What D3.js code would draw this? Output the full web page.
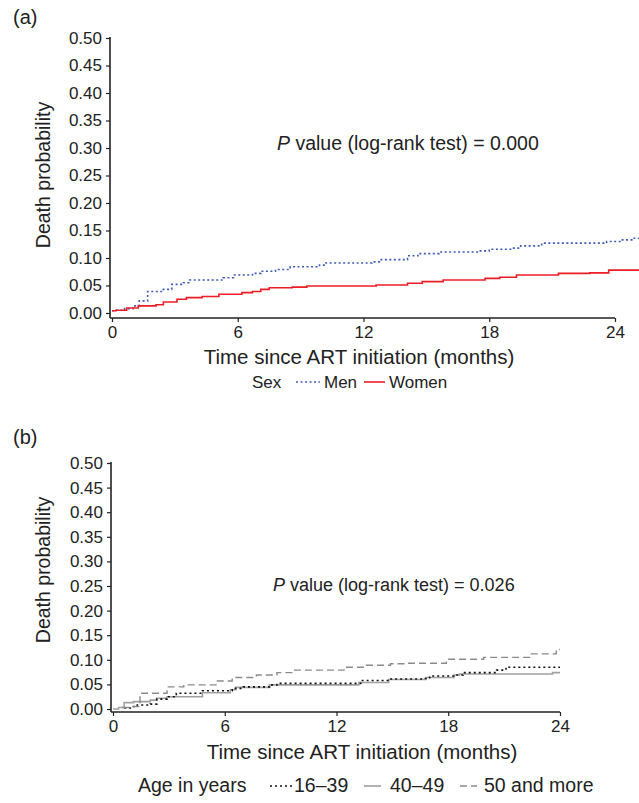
<!DOCTYPE html>
<html><head><meta charset="utf-8">
<script src="https://cdn.jsdelivr.net/npm/d3@7"></script>
<style>
body{margin:0;background:#fff;}
svg{display:block;font-family:"Liberation Sans",Arial,Helvetica,sans-serif;}
</style></head>
<body><svg id="c" width="639" height="803"></svg>
<script>
// ---------- data ----------
const yTicks = [0,0.05,0.10,0.15,0.20,0.25,0.30,0.35,0.40,0.45,0.50];
const xTicks = [0,6,12,18,24];

// Panel (a): Sex
const menT   = [0,0.2,0.6,1.0,1.3,1.7,2.4,2.85,3.4,3.7,5.3,5.8,6.7,7.1,7.8,8.5,9.9,10.2,12.4,12.8,14.1,14.6,15.6,17.5,18.0,19.1,19.5,20.5,23.6,24.3,24.8,25.2];
const menV   = [0.004,0.005,0.008,0.013,0.022,0.039,0.043,0.052,0.055,0.060,0.064,0.069,0.072,0.076,0.079,0.084,0.087,0.091,0.093,0.097,0.104,0.108,0.111,0.113,0.116,0.118,0.122,0.127,0.130,0.133,0.136,0.137];
const womenT = [0,0.2,0.7,1.25,2.1,2.45,3.1,3.55,4.3,5.1,6.2,6.7,7.1,7.5,8.6,9.3,12.6,14.1,14.8,15.8,17.8,18.5,19.3,21.3,22.8,23.7,25.2];
const womenV = [0.004,0.005,0.009,0.013,0.015,0.020,0.025,0.028,0.030,0.034,0.037,0.039,0.043,0.046,0.047,0.049,0.051,0.054,0.057,0.060,0.063,0.065,0.069,0.072,0.073,0.078,0.078];

// Panel (b): Age
const ageAT = [0.6,1.1,1.3,2.0,2.35,2.9,3.4,4.8,6.4,7.0,8.4,8.8,13.3,14.8,16.7,17.0,18.3,18.8,20.6,21.1,24];
const ageAV = [0.002,0.005,0.008,0.010,0.020,0.025,0.032,0.037,0.042,0.045,0.049,0.052,0.058,0.061,0.062,0.067,0.069,0.074,0.079,0.085,0.085];
const ageBT = [0,0.3,0.6,1.1,2.0,2.35,2.9,4.8,6.3,6.6,8.4,13.2,14.8,16.8,18.3,18.6,23.6,24];
const ageBV = [0,0.003,0.013,0.015,0.018,0.022,0.025,0.033,0.039,0.044,0.049,0.054,0.060,0.064,0.069,0.071,0.074,0.074];
const ageCT = [0.5,1.1,1.45,2.9,3.8,5.6,6.4,7.7,8.8,9.7,12.4,13.6,14.9,15.8,17.9,19.9,22.4,23.8,24];
const ageCV = [0.003,0.005,0.032,0.045,0.049,0.057,0.064,0.069,0.074,0.079,0.085,0.089,0.092,0.093,0.101,0.105,0.112,0.121,0.121];

const sexLabels = ["Men","Women"];
const ageLabels = ["16\u201339","40\u201349","50 and more"];

// ---------- drawing ----------
const svg = d3.select("#c");
const axisCol = "#222";

function panel(cfg){
  const g = svg.append("g");
  const x = d3.scaleLinear().domain([0,24]).range(cfg.xr);
  const y = d3.scaleLinear().domain([0,0.5]).range(cfg.yr);
  // y axis
  const ya = g.append("g").attr("transform",`translate(${cfg.ax},0)`);
  ya.call(d3.axisLeft(y).tickValues(d3.range(0,0.501,0.01)).tickSize(2).tickFormat(""));
  ya.call(d3.axisLeft(y).tickValues(yTicks).tickSize(4).tickSizeOuter(0).tickFormat(d3.format(".2f")));
  ya.select(".domain").attr("d",`M0,${cfg.yr[1]-1}V${cfg.ay}`);
  // x axis
  const xa = g.append("g").attr("transform",`translate(0,${cfg.ay})`);
  xa.call(d3.axisBottom(x).tickValues(d3.range(0,24.01,1)).tickSize(3).tickFormat(""));
  xa.call(d3.axisBottom(x).tickValues(xTicks).tickSize(4).tickSizeOuter(0).tickFormat(d3.format("d")));
  xa.select(".domain").attr("d",`M${cfg.ax},0H${cfg.xr[1]}`);
  g.selectAll(".domain").attr("stroke",axisCol).attr("stroke-width",1.6);
  g.selectAll(".tick line").attr("stroke",axisCol).attr("stroke-width",1.2);
  g.selectAll(".tick text").attr("fill","#222").attr("font-size",17).attr("font-family",null);
  ya.selectAll(".tick text").attr("x",-8);
  xa.selectAll(".tick text").attr("y",8);

  // curves
  const line = d3.line().x(d=>x(d[0])).y(d=>y(d[1])).curve(d3.curveStepAfter);
  cfg.series.forEach(s=>{
    const pts = s.t.map((t,i)=>[t,s.v[i]]);
    g.append("path").attr("d",line(pts)).attr("fill","none")
      .attr("stroke",s.color).attr("stroke-width",s.w)
      .attr("stroke-dasharray",s.dash||null);
  });

  // labels
  g.append("text").attr("x",cfg.lx).attr("y",cfg.ly).attr("font-size",20).attr("fill","#222").text(cfg.letter);
  g.append("text").attr("transform",`translate(${cfg.ylx},${cfg.yly}) rotate(-90)`)
    .attr("text-anchor","middle").attr("font-size",19.5).attr("fill","#222").text("Death probability");
  g.append("text").attr("x",cfg.xtx).attr("y",cfg.xty).attr("text-anchor","middle")
    .attr("font-size",20.5).attr("fill","#222").text("Time since ART initiation (months)");
  const pt = g.append("text").attr("x",cfg.px).attr("y",cfg.py).attr("font-size",cfg.pf).attr("fill","#222");
  pt.append("tspan").attr("font-style","italic").text("P");
  pt.append("tspan").text(" value (log-rank test) = "+cfg.p);

  // legend
  const lg = g.append("g");
  lg.append("text").attr("x",cfg.legTitleX).attr("y",cfg.legY+6).attr("font-size",cfg.lf).attr("fill","#222").text(cfg.legTitle);
  cfg.legItems.forEach(it=>{
    lg.append("line").attr("x1",it.x1).attr("x2",it.x2).attr("y1",cfg.legY).attr("y2",cfg.legY)
      .attr("stroke",it.s.color).attr("stroke-width",it.s.w).attr("stroke-dasharray",it.s.dash||null);
    lg.append("text").attr("x",it.tx).attr("y",cfg.legY+6).attr("font-size",cfg.lf).attr("fill","#222").text(it.label);
  });
}

const sMen   = {t:menT,v:menV,color:"#3d5bb8",w:1.6,dash:"2,2.5"};
const sWomen = {t:womenT,v:womenV,color:"#ee1c25",w:1.6};
panel({
  xr:[112,615], yr:[313,38], ax:110, ay:318,
  series:[sMen,sWomen], letter:"(a)", lx:13, ly:24,
  ylx:50, yly:175, xtx:359, xty:364, px:277, py:150, p:"0.000", pf:19.5,
  legTitle:"Sex", legTitleX:252, legY:382, lf:17,
  legItems:[
    {s:sMen,x1:296,x2:320,tx:324,label:sexLabels[0]},
    {s:sWomen,x1:364,x2:385,tx:389,label:sexLabels[1]}
  ]
});

const sA = {t:ageAT,v:ageAV,color:"#111",w:1.6,dash:"2,3"};
const sB = {t:ageBT,v:ageBV,color:"#a0a0a0",w:1.6};
const sC = {t:ageCT,v:ageCV,color:"#8a8a8a",w:1.4,dash:"7,4"};
panel({
  xr:[113,560], yr:[709,463], ax:111, ay:712,
  series:[sB,sA,sC], letter:"(b)", lx:13, ly:444,
  ylx:50, yly:570, xtx:362, xty:759, px:273, py:591, p:"0.026", pf:18,
  legTitle:"Age in years", legTitleX:138, legY:786, lf:19.5,
  legItems:[
    {s:sA,x1:270,x2:293,tx:294,label:ageLabels[0]},
    {s:sB,x1:364,x2:381,tx:390,label:ageLabels[1]},
    {s:sC,x1:460,x2:477,tx:484,label:ageLabels[2]}
  ]
});
</script></body></html>
